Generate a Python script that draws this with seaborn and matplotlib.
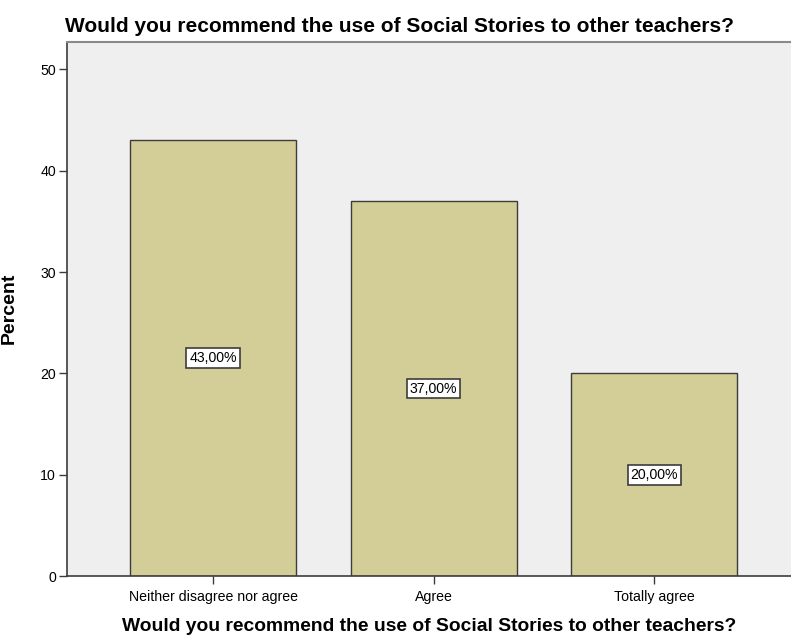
import matplotlib
matplotlib.use("Agg")
import matplotlib.pyplot as plt
import seaborn as sns
import pandas as pd

categories = ["Neither disagree nor agree", "Agree", "Totally agree"]
percents = [43.0, 37.0, 20.0]
yticks = [0, 10, 20, 30, 40, 50]
question = "Would you recommend the use of Social Stories to other teachers?"

df = pd.DataFrame({"answer": categories, "percent": percents})

sns.set_theme(style="white")
plt.rcParams["font.family"] = ["Liberation Sans", "DejaVu Sans"]
plt.rcParams["text.color"] = "black"
plt.rcParams["axes.labelcolor"] = "black"
plt.rcParams["xtick.color"] = "black"
plt.rcParams["ytick.color"] = "black"

W, H = 791, 635
fig = plt.figure(figsize=(W / 100, H / 100), dpi=100)
ax = fig.add_axes([67 / W, 1 - 576 / H, 1 - 67 / W, (576 - 42) / H])
ax.set_facecolor("#efefef")

sns.barplot(data=df, x="answer", y="percent", ax=ax, color="#d3ce97",
            saturation=1, edgecolor="#3c3c3c", linewidth=1.0, width=0.753)

for i, v in enumerate(percents):
    ax.text(i, v / 2, f"{v:.2f}%".replace(".", ","), ha="center", va="center",
            fontsize=10.2, color="black",
            bbox=dict(boxstyle="square,pad=0.2", facecolor="white",
                      edgecolor="#3c3c3c", linewidth=1.2))

ax.set_xlim(-0.662, 2.62)
ax.set_ylim(0, 52.7)
ax.set_yticks(yticks)
ax.set_yticklabels([str(t) for t in yticks])
ax.tick_params(axis="both", which="both", direction="out", length=6, width=1,
               color="#3c3c3c", labelcolor="black", labelsize=10.2, pad=2,
               left=True, bottom=True)
ax.tick_params(axis="x", pad=4)

for side in ["left", "bottom"]:
    ax.spines[side].set_color("#3c3c3c")
    ax.spines[side].set_linewidth(1.2)
ax.spines["top"].set_color("#8a8a8a")
ax.spines["top"].set_linewidth(1.5)
ax.spines["right"].set_visible(False)

ax.set_xlabel(question, fontsize=13.9, fontweight="bold", labelpad=10)
ax.set_ylabel("Percent", fontsize=14, fontweight="bold")
ax.yaxis.set_label_coords(-(67 - 18) / (W - 67), (576 - 308) / (576 - 42))

fig.text(400 / W, 1 - 26 / H, question, ha="center", va="center",
         fontsize=15, fontweight="bold")

fig.savefig("out.png", dpi=100)
